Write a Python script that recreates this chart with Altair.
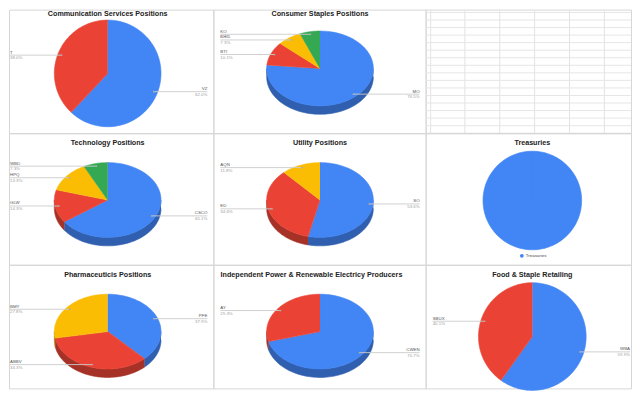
import altair as alt
import pandas as pd

# ---------------- data ----------------
comm_names = ["VZ", "T"]
comm_vals = [62.0, 38.0]
staples_names = ["MO", "BTI", "KHC", "KO"]
staples_vals = [76.5, 10.1, 7.3, 6.1]
tech_names = ["CSCO", "GLW", "HPQ", "WBD"]
tech_vals = [65.1, 14.3, 13.3, 7.3]
util_names = ["SO", "ED", "AQN"]
util_vals = [53.6, 34.6, 11.8]
treas_names = ["Treasuries"]
treas_vals = [100.0]
pharma_names = ["PFE", "ABBV", "BMY"]
pharma_vals = [37.9, 34.3, 27.8]
power_names = ["CWEN", "AY"]
power_vals = [70.7, 29.3]
food_names = ["WBA", "SBUX"]
food_vals = [59.9, 40.1]

titles = {
    "comm": "Communication Services Positions",
    "staples": "Consumer Staples Positions",
    "tech": "Technology Positions",
    "util": "Utility Positions",
    "treas": "Treasuries",
    "pharma": "Pharmaceuticis Positions",
    "power": "Independent Power & Renewable Electricy Producers",
    "food": "Food & Staple Retailing",
}

# ---------------- style ----------------
FONT = "Liberation Sans"
PALETTE = ["#4285F4", "#EA4335", "#FBBC04", "#34A853"]
DARK = ["#2f5fae", "#a63127", "#b38703", "#25783c"]
# (width, offset) of each column / row of the sheet screenshot
COLS = [(205, 8), (213, 0), (206, 0)]
ROWS = [(124, 8), (132, 0), (124, 0)]
N = 72


def panel(key, names, vals, col, row, cx, cy, rx, ry, depth=0,
          title_align="center", title_x=107, labels=True, legend=False):
    w, ox = COLS[col]
    h, oy = ROWS[row]
    xs = alt.Scale(domain=[ox, ox + w], nice=False, zero=False)
    ys = alt.Scale(domain=[oy, oy + h], nice=False, zero=False, reverse=True)

    def X(f):
        return alt.X(f, type="quantitative", scale=xs, axis=None)

    def Y(f):
        return alt.Y(f, type="quantitative", scale=ys, axis=None)

    n = len(names)
    df = pd.DataFrame({"name": names, "value": vals, "i": list(range(n)),
                       "col": PALETTE[:n], "dark": DARK[:n]})
    base = alt.Chart(df).transform_joinaggregate(
        total="sum(value)"
    ).transform_window(
        cum="sum(value)", sort=[alt.SortField("i", order="ascending")], frame=[None, 0]
    ).transform_calculate(
        a1="2*PI*datum.cum/datum.total",
        a0="2*PI*(datum.cum-datum.value)/datum.total",
    )
    layers = []
    if depth:
        side = base.transform_calculate(
            s0="max(datum.a0, PI/2)", s1="min(datum.a1, 3*PI/2)"
        ).transform_filter("datum.s1 > datum.s0").transform_calculate(
            t=f"sequence(0, {2 * N + 2})"
        ).transform_flatten(["t"]).transform_calculate(
            ang=f"datum.t <= {N} ? datum.s0 + (datum.s1-datum.s0)*datum.t/{N} : datum.s1 - (datum.s1-datum.s0)*(datum.t-{N + 1})/{N}",
            dy=f"datum.t <= {N} ? 0 : {depth}",
        ).transform_calculate(
            px=f"{cx} + {rx}*sin(datum.ang)",
            py=f"{cy} - {ry}*cos(datum.ang) + datum.dy",
        ).mark_line(strokeWidth=0.6).encode(
            x=X("px"), y=Y("py"), detail="name:N", order="t:Q",
            color=alt.Color("dark:N", scale=None),
            fill=alt.Fill("dark:N", scale=None),
        )
        layers.append(side)
    top = base.transform_calculate(
        t=f"sequence(0, {N + 2})"
    ).transform_flatten(["t"]).transform_calculate(
        ang=f"datum.a0 + (datum.a1-datum.a0)*(datum.t-1)/{N}"
    ).transform_calculate(
        px=f"{cx} + (datum.t==0 ? 0 : {rx}*sin(datum.ang))",
        py=f"{cy} + (datum.t==0 ? 0 : -{ry}*cos(datum.ang))",
    ).mark_line(strokeWidth=0.6).encode(
        x=X("px"), y=Y("py"), detail="name:N", order="t:Q",
        color=alt.Color("col:N", scale=None),
        fill=alt.Fill("col:N", scale=None),
    )
    layers.append(top)

    if labels:
        left_x = 9 if col == 0 else 7
        right_x = 205 if col == 2 else 207
        lab = base.transform_calculate(
            mid="(datum.a0+datum.a1)/2"
        ).transform_calculate(
            ax=f"{cx} + 0.93*{rx}*sin(datum.mid)",
            ay=f"{cy} - 0.93*{ry}*cos(datum.mid)",
            isleft="sin(datum.mid) < 0",
            lx=f"sin(datum.mid) < 0 ? {left_x} : {right_x}",
            pct="format(datum.value/datum.total, '.1%')",
        )
        layers.append(lab.mark_rule(color="#cccccc", strokeWidth=0.9).encode(
            x=X("ax"), x2="lx:Q", y=Y("ay")))
        layers.append(lab.mark_circle(size=3, color="#aaaaaa", opacity=1).encode(
            x=X("ax"), y=Y("ay")))
        for side_flag, align in (("datum.isleft", "left"), ("!datum.isleft", "right")):
            sub = lab.transform_filter(side_flag)
            layers.append(sub.mark_text(align=align, baseline="bottom", dy=-0.6,
                                        font=FONT, fontSize=4.4, color="#555555").encode(
                x=X("lx"), y=Y("ay"), text="name:N"))
            layers.append(sub.mark_text(align=align, baseline="top", dy=1.0,
                                        font=FONT, fontSize=4.4, color="#a0a0a0").encode(
                x=X("lx"), y=Y("ay"), text="pct:N"))

    if legend:
        leg = pd.DataFrame({"name": names, "lx": [96.5], "ly": [123.0], "tx": [100.5]})
        lc = alt.Chart(leg)
        layers.append(lc.mark_circle(size=14, color=PALETTE[0], opacity=1).encode(
            x=X("lx"), y=Y("ly")))
        layers.append(lc.mark_text(align="left", baseline="middle", font=FONT,
                                   fontSize=4.4, color="#444444").encode(
            x=X("tx"), y=Y("ly"), text="name:N"))

    ty = 12.3 if row == 0 else 10.2
    tdf = pd.DataFrame({"title": [titles[key]], "tx": [title_x], "ty": [ty]})
    layers.append(alt.Chart(tdf).mark_text(
        align=title_align, baseline="middle", font=FONT, fontSize=7.2,
        fontWeight="bold", color="#222222").encode(
        x=X("tx"), y=Y("ty"), text="title:N"))

    return alt.layer(*layers).properties(width=w, height=h)


def sheet_panel(col, row):
    w, ox = COLS[col]
    h, oy = ROWS[row]
    xs = alt.Scale(domain=[ox, ox + w], nice=False, zero=False)
    ys = alt.Scale(domain=[oy, oy + h], nice=False, zero=False, reverse=True)
    col_lines = pd.DataFrame({"x": [5.0, 39.3, 74.3, 109.3, 144.3, 179.3]})
    row_lines = pd.DataFrame({"y": [3.3 + 7.57 * k for k in range(18)]})
    v = alt.Chart(col_lines).mark_rule(color="#e3e3e3", strokeWidth=1, clip=True).encode(
        x=alt.X("x:Q", scale=xs, axis=None))
    hz = alt.Chart(row_lines).transform_filter(
        f"datum.y > {oy} && datum.y < {oy + h}"
    ).mark_rule(color="#e6e6e6", strokeWidth=1, clip=True).encode(
        y=alt.Y("y:Q", scale=ys, axis=None))
    return alt.layer(v, hz).properties(width=w, height=h)


p_comm = panel("comm", comm_names, comm_vals, 0, 0, 107, 72, 53.5, 53.5)
p_staples = panel("staples", staples_names, staples_vals, 1, 0, 107, 67, 53.5, 37.5, depth=8.5)
p_sheet = sheet_panel(2, 0)
p_tech = panel("tech", tech_names, tech_vals, 0, 1, 107, 67, 53.5, 37.5, depth=8.5)
p_util = panel("util", util_names, util_vals, 1, 1, 107, 67, 53.5, 37.5, depth=8.5)
p_treas = panel("treas", treas_names, treas_vals, 2, 1, 107, 67.5, 49.5, 49.5,
                labels=False, legend=True)
p_pharma = panel("pharma", pharma_names, pharma_vals, 0, 2, 107, 67, 53.5, 37.5, depth=8.5)
p_power = panel("power", power_names, power_vals, 1, 2, 107, 67, 53.5, 37.5, depth=8.5,
                title_align="left", title_x=7.3)
p_food = panel("food", food_names, food_vals, 2, 2, 107, 72, 54, 54)

panels = [p_comm, p_staples, p_sheet, p_tech, p_util, p_treas, p_pharma, p_power, p_food]

chart = alt.concat(*panels, columns=3, spacing=0, bounds="flush", align="each").resolve_scale(
    x="independent", y="independent"
).properties(
    padding=0, background="#ffffff"
).configure_view(
    stroke="#d6d6d6", strokeWidth=1
)

chart.save("out.html", embed_options={"renderer": "svg", "actions": False})
